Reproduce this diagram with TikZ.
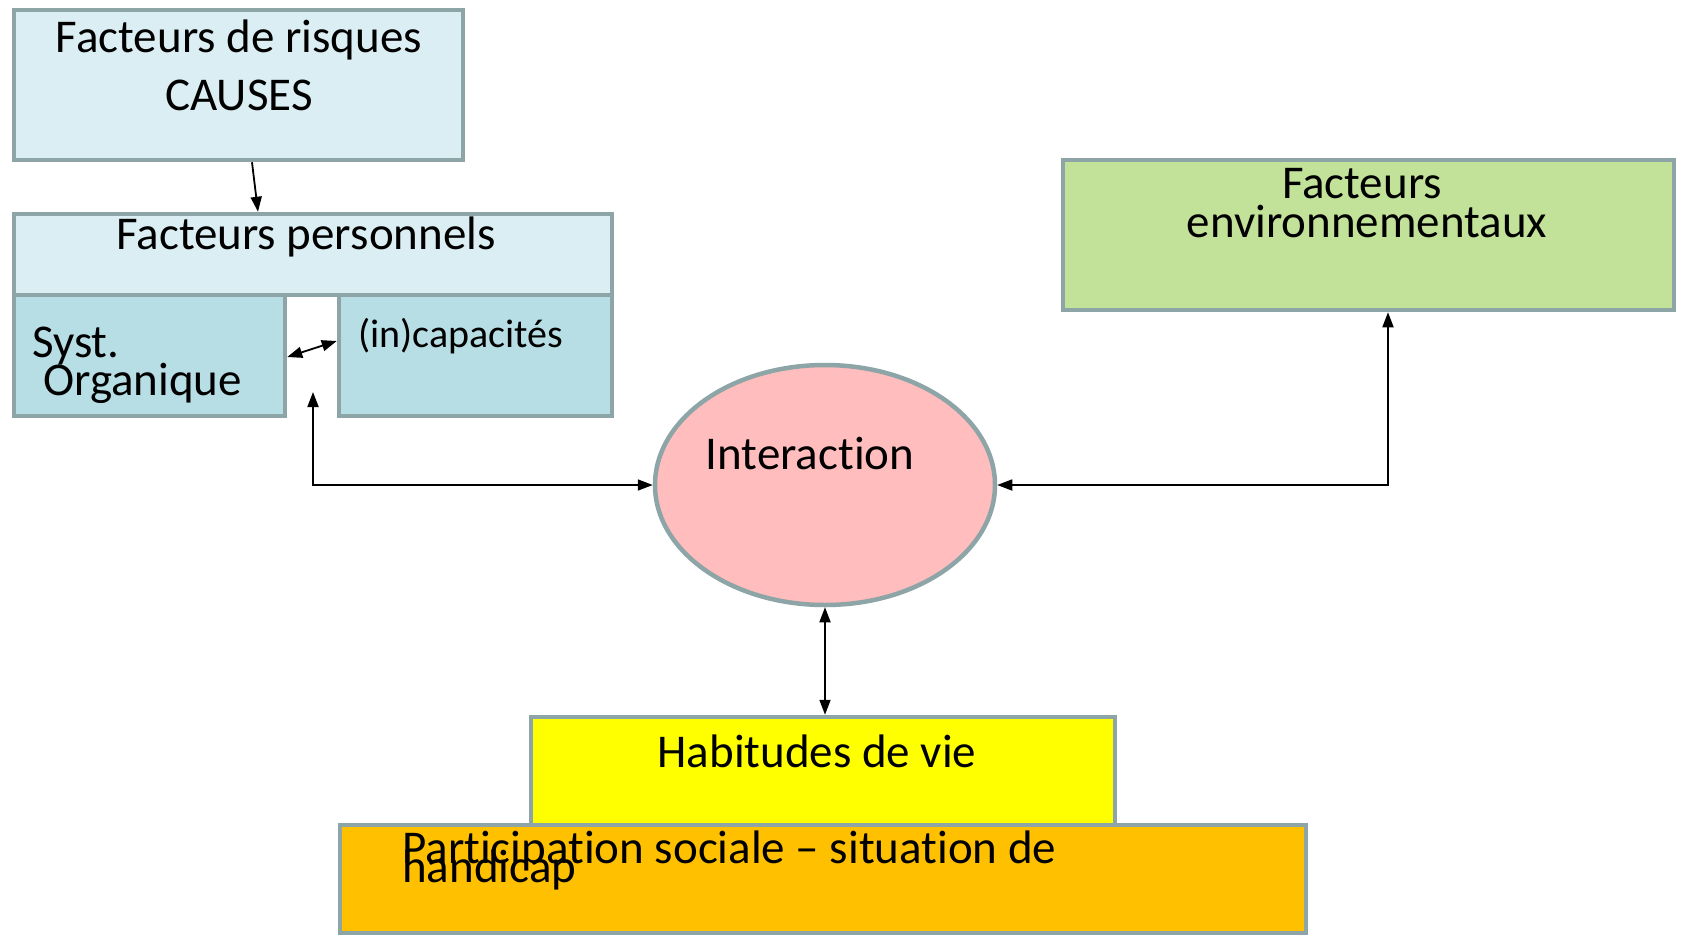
\documentclass[tikz,border=0pt]{standalone}
\usepackage{fontspec}
\setmainfont[Ligatures=NoCommon]{Carlito}
\usetikzlibrary{arrows.meta,shapes.geometric}
\definecolor{bord}{HTML}{8DA5A7}
\definecolor{lblue}{HTML}{DBEEF3}
\definecolor{mblue}{HTML}{B7DEE4}
\definecolor{lgreen}{HTML}{C2E199}
\definecolor{pinkf}{HTML}{FFBDBD}
\definecolor{yel}{HTML}{FFFF00}
\definecolor{orng}{HTML}{FFC000}
\begin{document}
\begin{tikzpicture}[x=1pt,y=-1pt,
  box/.style={draw=bord, line width=4.5pt, inner sep=0pt, rectangle},
  lbl/.style={inner sep=0pt, anchor=base, font=\fontsize{47}{56}\selectfont},
  lbll/.style={lbl, anchor=base west},
  arr/.style={line width=1.8pt, -{Triangle[length=15pt,width=11pt]}},
  darr/.style={line width=1.8pt, {Triangle[length=15pt,width=11pt]}-{Triangle[length=15pt,width=11pt]}}]
\fill[white] (0,0) rectangle (1681,935);
\useasboundingbox (0,0) rectangle (1681,935);

% boxes
\node[box, fill=lblue, minimum width=449pt, minimum height=150pt] (risk) at (238.5,85) {};
\node[box, fill=lblue, minimum width=598pt, minimum height=81pt] (fp) at (313,254.5) {};
\node[box, fill=mblue, minimum width=271pt, minimum height=121pt] (syst) at (149.5,355.5) {};
\node[box, fill=mblue, minimum width=273pt, minimum height=121pt] (incap) at (475.5,355.5) {};
\node[box, fill=lgreen, minimum width=611pt, minimum height=150pt] (env) at (1368.5,235) {};
\node[box, ellipse, fill=pinkf, minimum width=340pt, minimum height=240pt] (inter) at (825,485) {};
\node[box, fill=yel, minimum width=584pt, minimum height=108pt] (hab) at (823,771) {};
\node[box, fill=orng, minimum width=966pt, minimum height=108pt] (part) at (823,879) {};

% texts
\node[lbl] (t1) at (239,52) {Facteurs de risques};
\node[lbl] (t2) at (239,110) {CAUSES};
\node[lbl] (t3) at (306,249) {Facteurs personnels};
\node[lbll] (t4) at (32,357) {Syst.};
\node[lbll] (t5) at (43,395) {Organique};
\node[lbll, font=\fontsize{40}{48}\selectfont] (t6) at (358,347) {(in)capacités};
\node[lbl] (t7) at (1362,198) {Facteurs};
\node[lbl] (t8) at (1367,237) {environnementaux};
\node[lbl] (t9) at (810,469) {Interaction};
\node[lbl] (t10) at (817,767) {Habitudes de vie};
\node[lbll] (t11) at (402,863) {Participation sociale – situation de};
\node[lbll] (t12) at (402,882) {handicap};

% connectors
\coordinate (gap) at (313,392);
\draw[arr] ([xshift=13.5pt]risk.south) -- ([xshift=-55pt]fp.north);
\draw[darr] ([yshift=-1.5pt]syst.east) -- ([yshift=14.5pt]incap.west);
\draw[darr] (gap) |- (inter.west);
\draw[darr] (inter.east) -| ([xshift=19.5pt]env.south);
\draw[darr] (inter.south) -- (inter.south |- hab.north);
\end{tikzpicture}
\end{document}
